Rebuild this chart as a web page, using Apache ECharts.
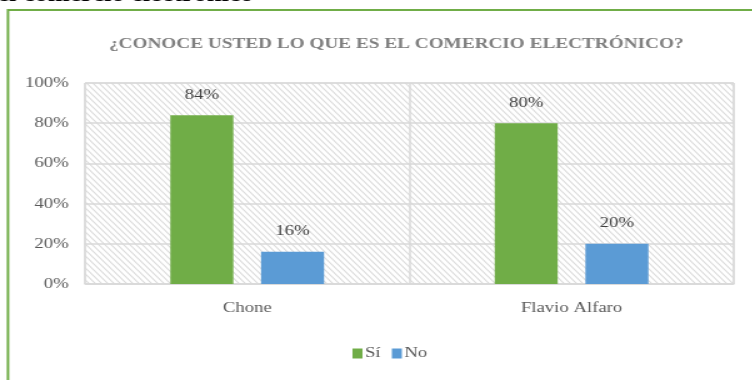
<!DOCTYPE html>
<html>
<head>
<meta charset="utf-8">
<script src="https://cdn.jsdelivr.net/npm/echarts@6/dist/echarts.min.js"></script>
<style>
  html, body { margin: 0; padding: 0; background: #fff; overflow: hidden; }
  /* The figure is laid out narrower and widened horizontally, giving the wide glyph look */
  #chart { width: 602px; height: 380px; transform: scaleX(1.25); transform-origin: 0 0; }
</style>
</head>
<body>
<div id="chart"></div>
<script>
// Survey results: do respondents know what e-commerce is?
const categories = ['Chone', 'Flavio Alfaro'];
const seriesNames = ['Sí', 'No'];
const siValues = [84, 80];
const noValues = [16, 20];
const yTicks = [0, 20, 40, 60, 80, 100];
const chartTitle = '¿CONOCE USTED LO QUE ES EL COMERCIO ELECTRÓNICO?';
const headingTail = 'el comercio electrónico';

// Diagonal hatch used as the plot area background
function makeHatch() {
  const w = 5, h = 6;
  const c = document.createElement('canvas');
  c.width = w; c.height = h;
  const ctx = c.getContext('2d');
  ctx.fillStyle = '#ffffff';
  ctx.fillRect(0, 0, w, h);
  ctx.strokeStyle = '#dadada';
  ctx.lineWidth = 1.1;
  ctx.beginPath();
  ctx.moveTo(-w, -h); ctx.lineTo(2 * w, 2 * h);
  ctx.moveTo(-w, 0); ctx.lineTo(w, 2 * h);
  ctx.moveTo(0, -h); ctx.lineTo(2 * w, h);
  ctx.stroke();
  return c;
}

const serif = '"Liberation Serif", "DejaVu Serif", serif';
const chart = echarts.init(document.getElementById('chart'), null, { renderer: 'canvas' });

const labelStyle = {
  show: true, position: 'top', distance: 13, formatter: '{c}%',
  fontFamily: serif, fontSize: 15, color: '#404040'
};

chart.setOption({
  animation: false,
  textStyle: { fontFamily: serif },
  title: {
    text: chartTitle,
    left: 312,
    top: 32,
    textAlign: 'center',
    textStyle: { fontFamily: serif, fontSize: 15.4, fontWeight: 'bold', color: '#7f7f7f' }
  },
  graphic: [
    {
      type: 'rect',
      shape: { x: 6.4, y: 10, width: 700, height: 420 },
      style: { fill: 'none', stroke: '#70ad47', lineWidth: 2 },
      silent: true, z: 0
    },
    {
      type: 'text',
      left: -2, top: -15,
      style: { text: headingTail, font: 'bold 21px ' + serif, fill: '#000000' },
      silent: true
    }
  ],
  legend: {
    data: seriesNames,
    bottom: 14,
    left: 277,
    itemWidth: 8, itemHeight: 10, itemGap: 9,
    icon: 'rect',
    textStyle: { fontFamily: serif, fontSize: 15, color: '#595959', padding: [0, 0, 0, -3] }
  },
  grid: {
    left: 68, right: 15, top: 83, bottom: 96,
    show: true,
    backgroundColor: { image: makeHatch(), repeat: 'repeat' },
    borderColor: '#d9d9d9', borderWidth: 1
  },
  xAxis: {
    type: 'category',
    data: categories,
    axisLine: { show: true, lineStyle: { color: '#d9d9d9', width: 1.5 } },
    axisTick: { show: false },
    splitLine: { show: true, lineStyle: { color: '#d9d9d9', width: 1.5 } },
    axisLabel: { fontFamily: serif, fontSize: 15, color: '#595959', margin: 17 }
  },
  yAxis: {
    type: 'value',
    min: yTicks[0], max: yTicks[yTicks.length - 1], interval: 20,
    axisLine: { show: false },
    axisTick: { show: false },
    splitLine: { lineStyle: { color: '#d9d9d9', width: 1.5 } },
    axisLabel: { formatter: '{value}%', fontFamily: serif, fontSize: 15, color: '#595959', margin: 13 }
  },
  series: [
    {
      name: seriesNames[0], type: 'bar', data: siValues,
      barWidth: 50.4, barGap: '44%',
      itemStyle: { color: '#70ad47' },
      label: labelStyle
    },
    {
      name: seriesNames[1], type: 'bar', data: noValues,
      barWidth: 50.4,
      itemStyle: { color: '#5b9bd5' },
      label: labelStyle
    }
  ]
});
</script>
</body>
</html>
